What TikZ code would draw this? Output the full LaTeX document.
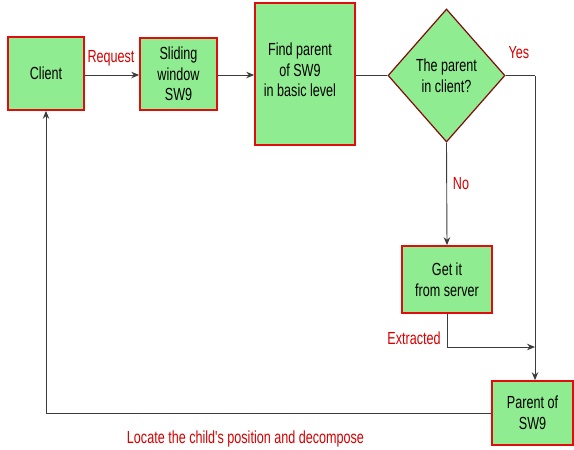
\documentclass[tikz,border=0pt]{standalone}
\usepackage{fontspec}
\setmainfont{Liberation Sans}
% tall, narrow sans for all diagram text
\newfontfamily\tallsans[FakeStretch=0.72]{Liberation Sans}
\usetikzlibrary{shapes.geometric,arrows.meta}
\definecolor{boxfill}{RGB}{144,236,144}
\definecolor{boxedge}{RGB}{226,12,12}
\definecolor{diaedge}{RGB}{130,10,10}
\definecolor{labelred}{RGB}{214,0,0}
\definecolor{wire}{RGB}{60,60,60}
\begin{document}
\begin{tikzpicture}[x=1pt,y=-1pt,
  txt/.style={font=\tallsans\fontsize{17.5}{20.5}\selectfont, align=center},
  stepbox/.style={txt, draw=boxedge, line width=1.6pt, fill=boxfill, inner sep=0pt},
  decision/.style={txt, diamond, draw=diaedge, line width=1.2pt, fill=boxfill, inner sep=0pt},
  wirestyle/.style={draw=wire, line width=0.9pt},
  arr/.style={wirestyle, -{Stealth[length=8pt,width=6.5pt]}},
  tag/.style={txt, text=labelred}
]
\useasboundingbox (0,0) rectangle (574,450);

% process boxes
\node[stepbox, minimum width=76pt, minimum height=73pt] (client) at (46,73.5) {Client};
\node[stepbox, minimum width=77pt, minimum height=72pt] (slide) at (178.5,74) {Sliding\\window\\SW9};
\node[stepbox, minimum width=100pt, minimum height=142pt] (find) at (305,74) {};
\node[txt] (findtxt) at (300,70) {Find parent\\of SW9\\in basic level};
\node[decision, minimum width=117pt, minimum height=133pt] (ask) at (446.5,75.5) {The parent\\in client?};
\node[stepbox, minimum width=90pt, minimum height=67pt] (getit) at (447,279.5) {Get it\\from server};
\node[stepbox, minimum width=81pt, minimum height=64pt] (parent) at (532.5,413) {Parent of\\SW9};

% turning points
\coordinate (yesc) at (535,75.5);
\coordinate (extc) at (447,347);
\coordinate (backc) at (46,413);

% connectors
\draw[arr] (client.east |- 0,75) -- (slide.west |- 0,75);
\draw[arr] (slide.east |- 0,75) -- (find.west |- 0,75);
\draw[wirestyle] (find.east |- ask.west) -- (ask.west);
\draw[wirestyle] (ask.east) -- (yesc);
\draw[arr] (yesc) -- (yesc |- parent.north);
\draw[arr] (ask.south) -- (getit.north);
\draw[wirestyle] (getit.south) -- (extc);
\draw[arr] (extc) -- (yesc |- extc);
\draw[wirestyle] (parent.west) -- (backc);
\draw[arr] (backc) -- (client.south);

% labels
\node[tag] (lreq) at (111,58) {Request};
\node[tag] (lyes) at (519,53) {Yes};
\node[tag] (lno) at (461,184) {No};
\node[tag] (lext) at (414,338) {Extracted};
\node[tag] (lloc) at (245.5,439) {Locate the child's position and decompose};
\end{tikzpicture}
\end{document}
